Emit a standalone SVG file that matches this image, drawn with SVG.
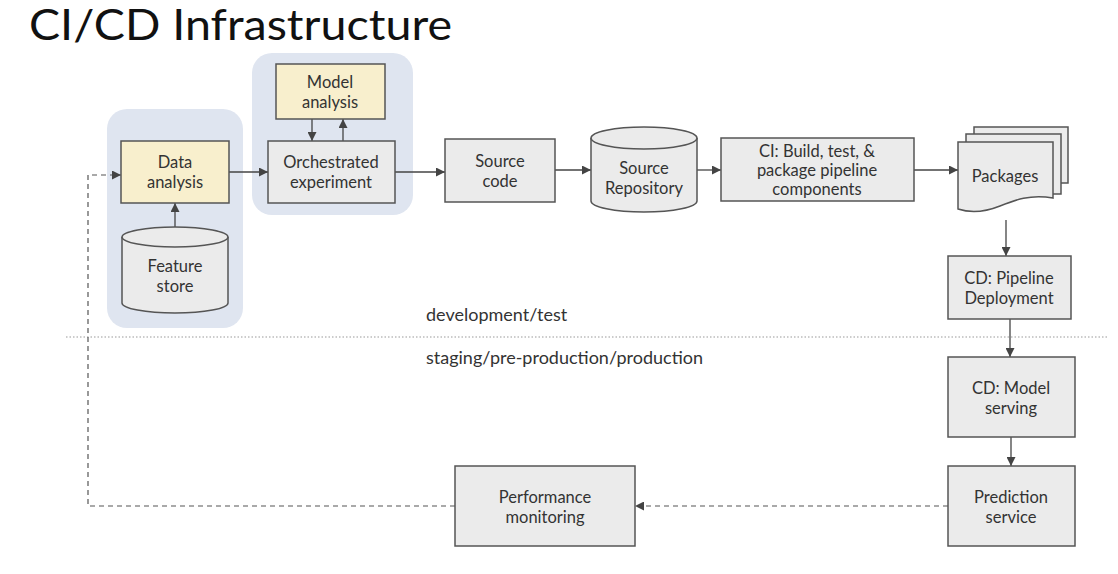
<svg xmlns="http://www.w3.org/2000/svg" width="1118" height="574" viewBox="0 0 1118 574">
<defs>
<style>
.box{fill:#ebebeb;stroke:#555;stroke-width:1.5}
.ybox{fill:#f8efcd;stroke:#555;stroke-width:1.5}
.grp{fill:#dfe5f0}
.t{font-family:Lato,"Open Sans","Liberation Sans",sans-serif;font-size:16.5px;fill:#333;text-anchor:middle}
.lbl{font-family:Lato,"Open Sans","Liberation Sans",sans-serif;font-size:18px;fill:#333}
.c{fill:none;stroke:#444;stroke-width:1.3}
.d{fill:none;stroke:#555;stroke-width:1.2;stroke-dasharray:5 4}
</style>
<marker id="ah" viewBox="0 0 10 10" refX="10" refY="5" markerWidth="9" markerHeight="9" markerUnits="userSpaceOnUse" orient="auto">
<path d="M0,0 L10,5 L0,10 z" fill="#444"/>
</marker>
</defs>
<rect width="1118" height="574" fill="#fff"/>
<text x="29" y="40" font-family="Lato,'Open Sans','Liberation Sans',sans-serif" font-size="43" fill="#111" textLength="423" lengthAdjust="spacingAndGlyphs">CI/CD Infrastructure</text>

<rect class="grp" x="107" y="109" width="136" height="219" rx="20"/>
<rect class="grp" x="252" y="53" width="161" height="162" rx="20"/>

<line x1="66" y1="337" x2="1108" y2="337" stroke="#999" stroke-width="1.2" stroke-dasharray="1.5 2"/>
<text class="lbl" x="426" y="321">development/test</text>
<text class="lbl" x="426" y="364">staging/pre-production/production</text>

<g id="connectors">
<path class="c" d="M229,172 H268" marker-end="url(#ah)"/>
<path class="c" d="M175,227 V203" marker-end="url(#ah)"/>
<path class="c" d="M312,119 V141" marker-end="url(#ah)"/>
<path class="c" d="M343,141 V119" marker-end="url(#ah)"/>
<path class="c" d="M395,172 H445" marker-end="url(#ah)"/>
<path class="c" d="M555,170 H591" marker-end="url(#ah)"/>
<path class="c" d="M697,170 H721" marker-end="url(#ah)"/>
<path class="c" d="M914,170 H958" marker-end="url(#ah)"/>
<path class="c" d="M1006,220 V256" marker-end="url(#ah)"/>
<path class="c" d="M1010,319 V357" marker-end="url(#ah)"/>
<path class="c" d="M1011,437 V466" marker-end="url(#ah)"/>
<path class="d" d="M948,506 H635" marker-end="url(#ah)"/>
<path class="d" d="M455,506 H88 V175 H121" marker-end="url(#ah)"/>
</g>

<g id="data-analysis">
<rect class="ybox" x="121" y="141" width="108" height="62"/>
<text class="t" x="175" y="168">Data</text>
<text class="t" x="175" y="188">analysis</text>
</g>

<g id="feature-store">
<path class="box" d="M122,237 V303 A53,10 0 0 0 228,303 V237"/>
<ellipse class="box" cx="175" cy="237" rx="53" ry="10"/>
<text class="t" x="175" y="272">Feature</text>
<text class="t" x="175" y="292">store</text>
</g>

<g id="model-analysis">
<rect class="ybox" x="276" y="64" width="109" height="55"/>
<text class="t" x="330" y="88">Model</text>
<text class="t" x="330" y="108">analysis</text>
</g>

<g id="orchestrated-experiment">
<rect class="box" x="268" y="141" width="127" height="62"/>
<text class="t" x="331" y="168">Orchestrated</text>
<text class="t" x="331" y="188">experiment</text>
</g>

<g id="source-code">
<rect class="box" x="445" y="139" width="110" height="63"/>
<text class="t" x="500" y="167">Source</text>
<text class="t" x="500" y="187">code</text>
</g>

<g id="source-repository">
<path class="box" d="M591,138 V201 A53,11 0 0 0 697,201 V138"/>
<ellipse class="box" cx="644" cy="138" rx="53" ry="11"/>
<text class="t" x="644" y="174">Source</text>
<text class="t" x="644" y="194">Repository</text>
</g>

<g id="ci-build">
<rect class="box" x="721" y="138" width="193" height="63"/>
<text class="t" x="817" y="157">CI: Build, test, &amp;</text>
<text class="t" x="817" y="176">package pipeline</text>
<text class="t" x="817" y="195">components</text>
</g>

<g id="packages">
<rect class="box" x="974" y="127" width="94" height="56"/>
<rect class="box" x="966" y="134" width="95" height="60"/>
<path class="box" d="M958,142 H1053 V198 C1030,194 1015,200 1000,206 C985,212 970,213 958,209 Z"/>
<text class="t" x="1005" y="182">Packages</text>
</g>

<g id="cd-pipeline">
<rect class="box" x="948" y="256" width="123" height="63"/>
<text class="t" x="1009" y="284">CD: Pipeline</text>
<text class="t" x="1009" y="304">Deployment</text>
</g>

<g id="cd-model-serving">
<rect class="box" x="948" y="357" width="127" height="80"/>
<text class="t" x="1011" y="394">CD: Model</text>
<text class="t" x="1011" y="414">serving</text>
</g>

<g id="prediction-service">
<rect class="box" x="948" y="466" width="127" height="80"/>
<text class="t" x="1011" y="503">Prediction</text>
<text class="t" x="1011" y="523">service</text>
</g>

<g id="performance-monitoring">
<rect class="box" x="455" y="466" width="180" height="80"/>
<text class="t" x="545" y="503">Performance</text>
<text class="t" x="545" y="523">monitoring</text>
</g>
</svg>
